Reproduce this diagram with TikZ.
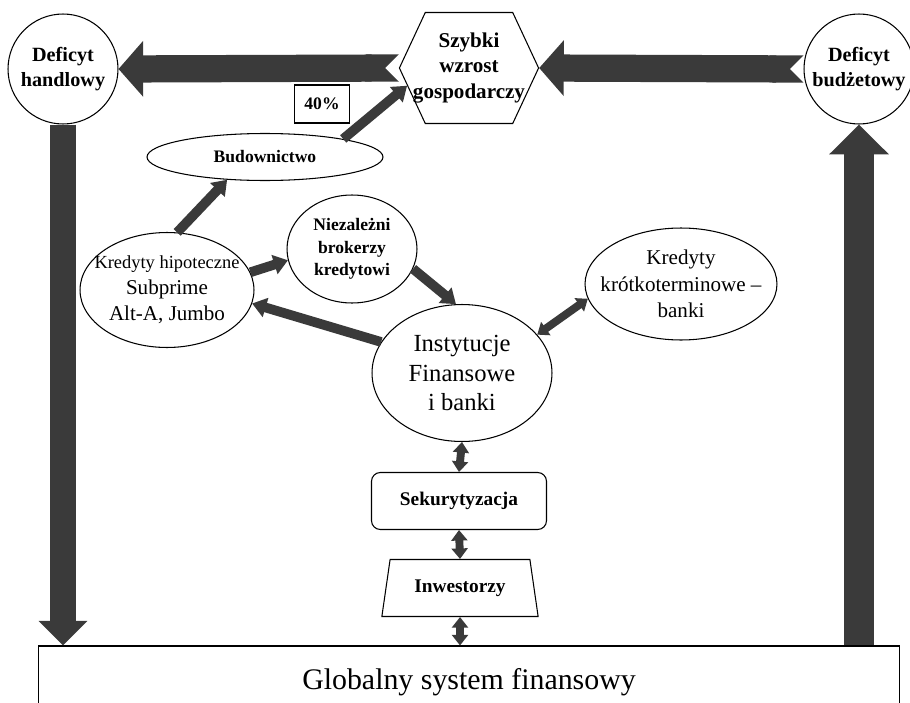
\documentclass[tikz,border=0pt]{standalone}
\usepackage{fontspec}
\setmainfont{Liberation Serif}
\usetikzlibrary{arrows.meta,shapes.geometric,shapes.symbols}
\definecolor{arrowgray}{HTML}{3A3A3A}
\tikzset{every picture/.style={line width=0.6pt}}
\tikzset{
  circ/.style={draw, circle, inner sep=0pt, minimum size=2.2cm, align=center, font=\fontsize{11.5}{14}\selectfont\bfseries},
  ell/.style={draw, ellipse, inner xsep=-0.5cm, inner ysep=-0.2cm, align=center},
  fat/.style={draw=arrowgray, line width=15.5pt, {Triangle Cap[reversed]}-{Triangle[length=14pt, width=31pt]}},
  fatdown/.style={draw=arrowgray, line width=14.7pt, -{Triangle[length=14pt, width=27pt]}},
  fatup/.style={draw=arrowgray, line width=17pt, -{Triangle[length=17pt, width=33pt]}},
  link/.style={draw=arrowgray, line width=5.5pt, -{Triangle[length=8pt, width=11pt]}},
  dlink/.style={draw=arrowgray, line width=4.5pt, {Triangle[length=6pt, width=9pt]}-{Triangle[length=6pt, width=9pt]}}
}
\begin{document}
\begin{tikzpicture}[x=0.02cm, y=-0.02cm]
    \useasboundingbox (0,0) rectangle (910,703);
    \node[circ] (handlowy) at (63,69) {Deficyt\\handlowy};
    \node[circ] (budzet) at (859,69) {Deficyt\\budżetowy};
    \node[draw, signal, signal to=west and east, signal pointer angle=130, inner xsep=-7pt, inner ysep=0pt, minimum width=1cm, minimum height=2.22cm, align=center, font=\fontsize{12}{14.7}\selectfont\bfseries] (wzrost) at (469,68) {Szybki\\wzrost\\gospodarczy};
    \node[draw, minimum width=1.1cm, minimum height=0.76cm, inner sep=0pt, font=\fontsize{10}{12}\selectfont\bfseries] (procent) at (322,104) {40\%};
    \node[ell, minimum width=4.72cm, minimum height=0.94cm, font=\fontsize{10}{12}\selectfont\bfseries] (budow) at (265,157) {Budownictwo};
    \node[ell, minimum width=3.48cm, minimum height=2.3cm, font=\fontsize{12}{14.7}\selectfont] (hipo) at (167,290) {{\fontsize{10.5}{14.7}\selectfont Kredyty hipoteczne}\\Subprime\\Alt-A, Jumbo};
    \node[ell, minimum width=2.6cm, minimum height=2.16cm, font=\fontsize{10}{12.8}\selectfont\bfseries] (broker) at (352,249) {Niezależni\\brokerzy\\kredytowi};
    \node[ell, minimum width=3.6cm, minimum height=2.74cm, font=\fontsize{14}{17}\selectfont] (instyt) at (462,373) {Instytucje\\Finansowe\\i banki};
    \node[ell, minimum width=3.84cm, minimum height=2.24cm, font=\fontsize{12}{15}\selectfont] (krotko) at (681,284) {Kredyty\\krótkoterminowe –\\banki};
    \node[draw, rounded corners=5pt, minimum width=3.5cm, minimum height=1.14cm, font=\fontsize{11}{13}\selectfont\bfseries] (sekur) at (459,501) {Sekurytyzacja};
    \node[draw, trapezium, trapezium stretches=true, trapezium left angle=78, trapezium right angle=78, minimum width=3.14cm, minimum height=1.14cm, font=\fontsize{11}{13}\selectfont\bfseries] (inwest) at (460,588) {Inwestorzy};
    \node[draw, minimum width=17.24cm, minimum height=1.44cm, font=\fontsize{17}{20}\selectfont] (global) at (469,682) {Globalny system finansowy};
    \draw[fat] (wzrost.west) -- (handlowy.east);
    \draw[fat] (budzet.west) -- (wzrost.east);
    \draw[fatdown] (handlowy.south) -- (handlowy.south |- global.north);
    \draw[fatup] (budzet.south |- global.north) -- (budzet.south);
    \draw[link] (hipo.80) -- (budow.211);
    \draw[link] (budow.13) -- (wzrost.196);
    \draw[link] (hipo.12) -- (broker.190);
    \draw[link] (broker.342) -- (instyt.95);
    \draw[link] (instyt.159) -- (hipo.351);
    \draw[dlink] (instyt.27) -- (krotko.189);
    \draw[dlink] (instyt.south) -- (sekur.north);
    \draw[dlink] (sekur.south) -- (inwest.north);
    \draw[dlink] (inwest.south) -- (inwest.south |- global.north);
\end{tikzpicture}
\end{document}
